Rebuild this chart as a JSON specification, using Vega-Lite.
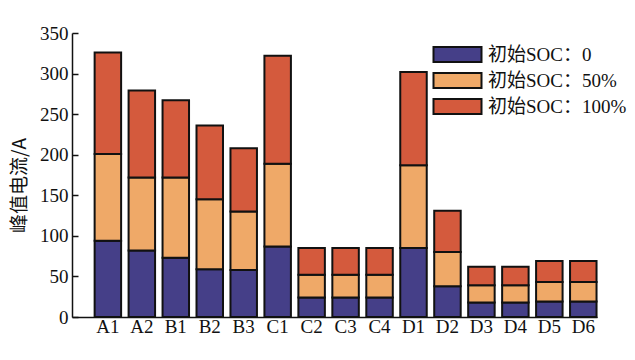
{
  "$schema": "https://vega.github.io/schema/vega-lite/v6.json",
  "autosize": "none",
  "width": 525,
  "height": 284,
  "padding": {"left": 72, "top": 33, "right": 38, "bottom": 43},
  "background": "white",
  "config": {
    "view": {"stroke": null},
    "font": "Liberation Serif, Noto Sans CJK SC"
  },
  "data": {
    "values": [
      {"group": "A1", "soc": "初始SOC：0", "k": 0, "current": 94},
      {"group": "A1", "soc": "初始SOC：50%", "k": 1, "current": 107},
      {"group": "A1", "soc": "初始SOC：100%", "k": 2, "current": 125},
      {"group": "A2", "soc": "初始SOC：0", "k": 0, "current": 82},
      {"group": "A2", "soc": "初始SOC：50%", "k": 1, "current": 90},
      {"group": "A2", "soc": "初始SOC：100%", "k": 2, "current": 107},
      {"group": "B1", "soc": "初始SOC：0", "k": 0, "current": 73},
      {"group": "B1", "soc": "初始SOC：50%", "k": 1, "current": 99},
      {"group": "B1", "soc": "初始SOC：100%", "k": 2, "current": 95},
      {"group": "B2", "soc": "初始SOC：0", "k": 0, "current": 59},
      {"group": "B2", "soc": "初始SOC：50%", "k": 1, "current": 86},
      {"group": "B2", "soc": "初始SOC：100%", "k": 2, "current": 91},
      {"group": "B3", "soc": "初始SOC：0", "k": 0, "current": 58},
      {"group": "B3", "soc": "初始SOC：50%", "k": 1, "current": 72},
      {"group": "B3", "soc": "初始SOC：100%", "k": 2, "current": 78},
      {"group": "C1", "soc": "初始SOC：0", "k": 0, "current": 87},
      {"group": "C1", "soc": "初始SOC：50%", "k": 1, "current": 102},
      {"group": "C1", "soc": "初始SOC：100%", "k": 2, "current": 133},
      {"group": "C2", "soc": "初始SOC：0", "k": 0, "current": 24},
      {"group": "C2", "soc": "初始SOC：50%", "k": 1, "current": 28},
      {"group": "C2", "soc": "初始SOC：100%", "k": 2, "current": 33},
      {"group": "C3", "soc": "初始SOC：0", "k": 0, "current": 24},
      {"group": "C3", "soc": "初始SOC：50%", "k": 1, "current": 28},
      {"group": "C3", "soc": "初始SOC：100%", "k": 2, "current": 33},
      {"group": "C4", "soc": "初始SOC：0", "k": 0, "current": 24},
      {"group": "C4", "soc": "初始SOC：50%", "k": 1, "current": 28},
      {"group": "C4", "soc": "初始SOC：100%", "k": 2, "current": 33},
      {"group": "D1", "soc": "初始SOC：0", "k": 0, "current": 85},
      {"group": "D1", "soc": "初始SOC：50%", "k": 1, "current": 102},
      {"group": "D1", "soc": "初始SOC：100%", "k": 2, "current": 115},
      {"group": "D2", "soc": "初始SOC：0", "k": 0, "current": 38},
      {"group": "D2", "soc": "初始SOC：50%", "k": 1, "current": 42},
      {"group": "D2", "soc": "初始SOC：100%", "k": 2, "current": 51},
      {"group": "D3", "soc": "初始SOC：0", "k": 0, "current": 18},
      {"group": "D3", "soc": "初始SOC：50%", "k": 1, "current": 21},
      {"group": "D3", "soc": "初始SOC：100%", "k": 2, "current": 23},
      {"group": "D4", "soc": "初始SOC：0", "k": 0, "current": 18},
      {"group": "D4", "soc": "初始SOC：50%", "k": 1, "current": 21},
      {"group": "D4", "soc": "初始SOC：100%", "k": 2, "current": 23},
      {"group": "D5", "soc": "初始SOC：0", "k": 0, "current": 19},
      {"group": "D5", "soc": "初始SOC：50%", "k": 1, "current": 24},
      {"group": "D5", "soc": "初始SOC：100%", "k": 2, "current": 26},
      {"group": "D6", "soc": "初始SOC：0", "k": 0, "current": 19},
      {"group": "D6", "soc": "初始SOC：50%", "k": 1, "current": 24},
      {"group": "D6", "soc": "初始SOC：100%", "k": 2, "current": 26}
    ]
  },
  "mark": {"type": "bar", "stroke": "#111111", "strokeWidth": 2, "opacity": 1},
  "encoding": {
    "x": {
      "field": "group",
      "type": "nominal",
      "sort": null,
      "scale": {"paddingInner": 0.22, "paddingOuter": 0.34, "align": 0.98},
      "axis": {
        "title": null,
        "labelAngle": 0,
        "labelFont": "Liberation Serif",
        "labelFontSize": 19,
        "labelColor": "#111111",
        "labelPadding": 4,
        "tickSize": -4,
        "tickColor": "#333333",
        "tickWidth": 1,
        "domainColor": "#111111",
        "domainWidth": 1.5
      }
    },
    "y": {
      "field": "current",
      "type": "quantitative",
      "aggregate": "sum",
      "stack": "zero",
      "scale": {"domain": [0, 350], "nice": false},
      "axis": {
        "title": "峰值电流/A",
        "titleFont": "Noto Sans CJK SC",
        "titleFontSize": 19,
        "titleFontWeight": "normal",
        "titleColor": "#111111",
        "titlePadding": 10,
        "titleY": 152,
        "values": [0, 50, 100, 150, 200, 250, 300, 350],
        "grid": false,
        "labelFont": "Liberation Serif",
        "labelFontSize": 19,
        "labelColor": "#111111",
        "labelPadding": 10,
        "tickSize": -6,
        "tickColor": "#111111",
        "tickWidth": 1.5,
        "domainColor": "#111111",
        "domainWidth": 1.5
      }
    },
    "color": {
      "field": "soc",
      "type": "nominal",
      "scale": {
        "domain": ["初始SOC：0", "初始SOC：50%", "初始SOC：100%"],
        "range": ["#453f88", "#efa968", "#d45a3d"]
      },
      "legend": {
        "title": null,
        "orient": "none",
        "legendX": 376,
        "legendY": 12,
        "symbolType": "M-3.2,-1L3.2,-1L3.2,1L-3.2,1Z",
        "symbolSize": 225,
        "symbolStrokeColor": "#111111",
        "symbolStrokeWidth": 2,
        "symbolOpacity": 1,
        "labelFont": "Liberation Serif, Noto Sans CJK SC",
        "labelFontSize": 19,
        "labelColor": "#111111",
        "labelOffset": 21,
        "rowPadding": 3,
        "labelLimit": 300
      }
    },
    "order": {"field": "k", "type": "quantitative"}
  }
}
